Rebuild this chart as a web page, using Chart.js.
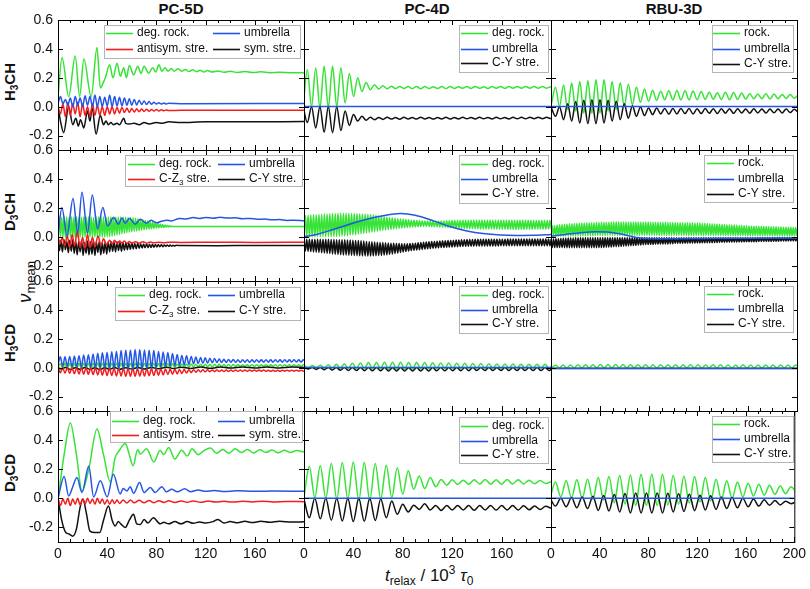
<!DOCTYPE html>
<html>
<head>
<meta charset="utf-8">
<title>nu mean relaxation</title>
<script src="https://cdn.jsdelivr.net/npm/chart.js"></script>
<style>
  html, body { margin: 0; padding: 0; background: #fff; }
  #fig { position: relative; width: 810px; height: 589px; overflow: hidden;
         font-family: "Liberation Sans", Arial, sans-serif; color: #111; }
  #fig canvas { position: absolute; left: 0; top: 0; }
  .lbl { position: absolute; white-space: nowrap; line-height: 1; }
  .colt { top: 1px; font-weight: bold; font-size: 15px; transform: translateX(-50%); }
  .rowt { font-weight: bold; font-size: 15px; transform: translate(-50%, -50%) rotate(-90deg); }
  .rowt .s { font-size: 10px; position: relative; top: 3px; }
  .ytitle { font-size: 19px; transform: translate(-50%, -50%) rotate(-90deg); }
  .ytitle i { font-style: italic; }
  .ytitle .s { font-size: 13px; position: relative; top: 4px; }
  .xtitle { font-size: 17px; left: 385px; top: 567px; }
  .xtitle .s { font-size: 12px; position: relative; top: 4px; }
  .xtitle .p { font-size: 12px; position: relative; top: -7px; }
</style>
</head>
<body>
<div id="fig">
  <div class="lbl colt" style="left:181px">PC-5D</div>
  <div class="lbl colt" style="left:427px">PC-4D</div>
  <div class="lbl colt" style="left:674px">RBU-3D</div>
  <div class="lbl rowt" style="left:9px;top:82px">H<span class="s">3</span>CH</div>
  <div class="lbl rowt" style="left:9px;top:212px">D<span class="s">3</span>CH</div>
  <div class="lbl rowt" style="left:9px;top:343px">H<span class="s">3</span>CD</div>
  <div class="lbl rowt" style="left:9px;top:473px">D<span class="s">3</span>CD</div>
  <div class="lbl ytitle" style="left:24px;top:282px"><i>&#957;</i><span class="s">mean</span></div>
  <div class="lbl xtitle"><i>t</i><span class="s">relax</span> / 10<span class="p">3</span> <i>&#964;</i><span class="s">0</span></div>
</div>
<script>
// axis ticks
const X_TICKS = [0, 40, 80, 120, 160, 200];
const X_MINOR = [10, 20, 30, 50, 60, 70, 90, 100, 110, 130, 140, 150, 170, 180, 190];
const Y_TICKS = [-0.2, 0.0, 0.2, 0.4, 0.6];

// ---------- H3CH ----------
const h3chPc5dRock = [[0,0.07],[3.3,0.34],[8.7,0.07],[14,0.35],[17.6,0.07],[21,0.33],[27,0.07],[31.7,0.41],[34.4,0.13],[37,0.17],[38.5,0.2],[42,0.29],[44.7,0.2],[48,0.3],[50.7,0.21],[53.4,0.27],[55.6,0.2],[58,0.285],[61.5,0.22],[64.8,0.28],[67.5,0.23],[70,0.28],[73.7,0.23],[77,0.27],[79.5,0.24],[82,0.29],[84.5,0.245],[87,0.27],[89.5,0.245],[92,0.265],[94.5,0.245],[97.5,0.262],[100.5,0.245],[103.5,0.258],[106.5,0.243],[109.5,0.255],[112.5,0.242],[115.5,0.252],[118.5,0.24],[121.5,0.25],[125,0.24],[130,0.247],[135,0.238],[140,0.245],[146,0.237],[152,0.243],[158,0.236],[165,0.241],[172,0.235],[180,0.238],[190,0.234],[200,0.235]];
const h3chPc5dUmb = [0.02,0.07,0.02,0.05,0.01,0.06,0.0,0.07,0.01,0.06,0.0,0.075,0.01,0.07,0.0,0.08,0.0,0.07,0.0,0.065,0.005,0.08,0.0,0.07,0.005,0.065,0.005,0.06,0.01,0.055,0.01,0.05,0.012,0.045,0.015,0.04,0.015,0.035,0.017,0.03,0.018,0.027,0.018,0.025,0.019,0.023];
const h3chPc5dUmbTail = [[100,0.021],[200,0.022]];
const h3chPc5dAnti = [0.0,-0.05,0.02,-0.07,0.03,-0.06,0.02,-0.05,0.03,-0.07,0.02,-0.06,0.0,-0.07,0.02,-0.06,0.01,-0.06,0.0,-0.06,0.0,-0.05,0.0,-0.05,-0.005,-0.045,-0.005,-0.04,-0.01,-0.04,-0.012,-0.037,-0.015,-0.035,-0.017,-0.033,-0.018,-0.032,-0.02,-0.03,-0.02,-0.03,-0.022,-0.028,-0.023,-0.027];
const h3chPc5dAntiTail = [[100,-0.025],[200,-0.025]];
const h3chPc5dSym = [[0,0],[2,-0.1],[4.6,-0.18],[8.7,0],[12,-0.125],[14.5,-0.08],[16.5,-0.135],[18.3,-0.09],[21,-0.147],[24,-0.03],[26,-0.1],[27.7,-0.01],[31,-0.19],[34.4,-0.06],[37,-0.125],[39,-0.1],[41,-0.125],[43,-0.11],[45,-0.125],[48,-0.115],[50,-0.125],[53.5,-0.08],[55,-0.115],[58,-0.12],[62,-0.115],[66,-0.125],[70,-0.11],[74,-0.12],[80,-0.11],[85,-0.115],[90,-0.105],[100,-0.11],[120,-0.105],[150,-0.105],[200,-0.103]];

const h3chPc4dRock = [0.0,0.255,0.0,0.267,-0.01,0.28,-0.01,0.28,0.0,0.27,0.025,0.23,0.07,0.2,0.105,0.168,0.117,0.152,0.122,0.145,0.124,0.142,0.125,0.14,0.126,0.139,0.125,0.14,0.124,0.14,0.125,0.138,0.126,0.139,0.125,0.14,0.126,0.138,0.127,0.139,0.126,0.14,0.127,0.138,0.126,0.139,0.127,0.14,0.126,0.139,0.127,0.14,0.127,0.139,0.127,0.14,0.128,0.139,0.128,0.138,0.13];
const h3chPc4dUmb = [[0,0.002],[200,0.002]];
const h3chPc4dCY = [0.0,-0.11,0.0,-0.147,0.002,-0.177,0.002,-0.18,0.0,-0.165,-0.03,-0.13,-0.055,-0.1,-0.067,-0.094,-0.073,-0.09,-0.075,-0.088,-0.074,-0.086,-0.075,-0.087,-0.074,-0.085,-0.075,-0.086,-0.074,-0.085,-0.075,-0.086,-0.075,-0.085,-0.074,-0.086,-0.075,-0.085,-0.074,-0.084,-0.075,-0.085,-0.074,-0.084,-0.075,-0.085,-0.074,-0.084,-0.075,-0.085,-0.074,-0.084,-0.074,-0.084,-0.074,-0.083,-0.074,-0.083,-0.074,-0.082,-0.078];

const h3chRbuRock = [0.02,0.135,0.002,0.15,-0.02,0.163,-0.03,0.175,-0.044,0.18,-0.045,0.186,-0.045,0.186,-0.03,0.175,-0.02,0.165,0.002,0.155,0.014,0.135,0.03,0.122,0.037,0.113,0.044,0.106,0.048,0.11,0.047,0.112,0.046,0.11,0.047,0.108,0.048,0.105,0.05,0.1,0.052,0.097,0.05,0.1,0.048,0.098,0.05,0.094,0.052,0.09,0.054,0.088,0.055,0.09,0.053,0.087,0.055,0.085,0.057,0.084,0.058,0.082];
const h3chRbuUmb = [[0,0.001],[200,0.001]];
const h3chRbuCY = [-0.01,-0.067,0.0,-0.09,0.02,-0.1,0.035,-0.113,0.044,-0.117,0.048,-0.117,0.048,-0.113,0.044,-0.1,0.037,-0.09,0.02,-0.08,0.007,-0.067,-0.002,-0.062,-0.01,-0.055,-0.01,-0.05,-0.012,-0.052,-0.013,-0.05,-0.012,-0.048,-0.013,-0.05,-0.014,-0.048,-0.013,-0.046,-0.014,-0.047,-0.015,-0.045,-0.014,-0.046,-0.015,-0.044,-0.016,-0.045,-0.015,-0.043,-0.016,-0.044,-0.017,-0.042,-0.016,-0.043,-0.017,-0.041,-0.018,-0.04];

// ---------- D3CH ----------
const d3chPc5dRock = [0.07,
  0.14,0.0, 0.138,0.002, 0.142,-0.002, 0.14,0.0, 0.139,0.003, 0.141,0.0, 0.14,-0.002, 0.142,0.001, 0.138,0.0, 0.14,0.002,
  0.141,0.0, 0.139,-0.001, 0.142,0.001, 0.14,0.0, 0.138,0.002, 0.141,0.0, 0.14,0.001, 0.142,-0.001, 0.139,0.002, 0.14,0.003,
  0.14,0.005, 0.141,0.008, 0.139,0.012, 0.14,0.016, 0.14,0.02, 0.139,0.024, 0.138,0.028, 0.138,0.032, 0.137,0.035, 0.136,0.038,
  0.135,0.041, 0.132,0.044, 0.128,0.047, 0.124,0.05, 0.12,0.053, 0.116,0.055, 0.112,0.057, 0.108,0.059, 0.104,0.061, 0.1,0.063,
  0.096,0.065, 0.092,0.067, 0.088,0.068, 0.085,0.07, 0.082,0.071, 0.079,0.072, 0.077,0.073, 0.075];
const d3chPc5dRockTail = [[100,0.074],[150,0.074],[200,0.074]];
const d3chPc5dUmb = [[0,0.01],[3.2,0.205],[7.3,0.01],[12.2,0.267],[16,0.03],[19.5,0.31],[24,0.03],[27.9,0.29],[32.2,0.06],[36.5,0.205],[40.3,0.078],[45.2,0.136],[49.2,0.09],[52,0.133],[54.7,0.097],[58,0.129],[62.8,0.09],[66.8,0.124],[72,0.097],[75.5,0.117],[80.4,0.1],[84,0.11],[88.5,0.117],[92,0.113],[99,0.13],[104,0.126],[110,0.136],[115,0.13],[120,0.137],[126,0.131],[132,0.138],[138,0.132],[144,0.135],[150,0.128],[156,0.13],[162,0.124],[168,0.126],[174,0.12],[180,0.122],[186,0.116],[192,0.118],[200,0.113]];
const d3chPc5dCZ3 = [[0,0],[2,-0.04],[3.5,0],[5.5,-0.06],[7.5,0.01],[9.5,-0.07],[11.5,0.02],[13.5,-0.06],[15.7,0.045],[18,-0.07],[20,0],[22,-0.075],[24,0.02],[26,-0.07],[28,0],[30,-0.065],[32.5,0.01],[35,-0.055],[37,-0.01],[39.5,-0.05],[42,-0.02],[44,-0.045],[46,-0.02],[48,-0.045],[50,-0.025],[52,-0.04],[54,-0.025],[56,-0.042],[58,-0.028],[60,-0.04],[63,-0.03],[66,-0.04],[69,-0.03],[72,-0.04],[75,-0.032],[78,-0.038],[82,-0.033],[86,-0.037],[90,-0.034],[100,-0.035],[130,-0.034],[160,-0.035],[200,-0.033]];
const d3chPc5dCY = [-0.01,
  -0.09,-0.02, -0.1,-0.015, -0.085,-0.03, -0.105,-0.02, -0.095,-0.015, -0.11,-0.025,
  -0.12,-0.03, -0.1,-0.02, -0.125,-0.035, -0.11,-0.025, -0.12,-0.03, -0.115,-0.02, -0.125,-0.03, -0.105,-0.025, -0.12,-0.035, -0.11,-0.03, -0.115,-0.03,
  -0.1,-0.03, -0.095,-0.035, -0.1,-0.03, -0.09,-0.035, -0.095,-0.035, -0.088,-0.038,
  -0.085,-0.04, -0.082,-0.038, -0.08,-0.042, -0.078,-0.04, -0.076,-0.044, -0.074,-0.045, -0.072,-0.046,
  -0.071,-0.047, -0.07,-0.048, -0.068,-0.049, -0.066,-0.05, -0.065,-0.051, -0.064,-0.052, -0.063,-0.052, -0.062,-0.053, -0.061,-0.054, -0.06,-0.055];
const d3chPc5dCYTail = [[100,-0.056],[130,-0.057],[160,-0.056],[200,-0.056]];

const d3chPc4dRock = [
  0.005,0.15, 0.005,0.152, 0.004,0.153, 0.005,0.155, 0.004,0.156, 0.005,0.158, 0.004,0.159, 0.005,0.16, 0.004,0.161, 0.005,0.162,
  0.005,0.163, 0.005,0.164, 0.006,0.165, 0.007,0.165, 0.008,0.165, 0.01,0.165, 0.012,0.165, 0.014,0.164, 0.016,0.164, 0.018,0.163,
  0.021,0.162, 0.024,0.161, 0.027,0.16, 0.03,0.159, 0.033,0.157, 0.036,0.155, 0.039,0.152, 0.042,0.149, 0.045,0.146, 0.048,0.143,
  0.05,0.14, 0.053,0.137, 0.055,0.134, 0.058,0.131, 0.06,0.128, 0.062,0.126, 0.064,0.124, 0.066,0.122, 0.068,0.12, 0.07,0.118,
  0.071,0.117, 0.072,0.116, 0.073,0.115, 0.074,0.114, 0.074,0.113, 0.074,0.113, 0.074,0.112, 0.073,0.112, 0.073,0.112, 0.072,0.112,
  0.071,0.113, 0.07,0.113, 0.069,0.114, 0.068,0.114, 0.067,0.115, 0.066,0.115, 0.065,0.116, 0.064,0.116, 0.063,0.117, 0.062,0.117,
  0.061,0.117, 0.06,0.117, 0.06,0.117, 0.059,0.117, 0.059,0.117, 0.058,0.117, 0.058,0.117, 0.058,0.117, 0.057,0.117, 0.057,0.117,
  0.057,0.117, 0.056,0.117, 0.056,0.117, 0.056,0.117, 0.056,0.117, 0.055,0.117, 0.055,0.117, 0.055,0.117, 0.055,0.117, 0.055,0.117,
  0.055,0.117, 0.055,0.117, 0.056,0.117, 0.056,0.116, 0.056,0.116, 0.057,0.116, 0.057,0.115, 0.057,0.115, 0.057,0.115, 0.057,0.115,
  0.057,0.115, 0.058];
const d3chPc4dUmb = [[0,0.005],[10,0.02],[24,0.055],[35,0.085],[51,0.124],[65,0.15],[78,0.163],[90,0.152],[105,0.113],[118,0.074],[132,0.044],[145,0.026],[159,0.016],[172,0.013],[186,0.014],[200,0.02]];
const d3chPc4dCY = [
  -0.014,-0.094, -0.014,-0.096, -0.014,-0.098, -0.014,-0.1, -0.014,-0.102, -0.014,-0.104, -0.014,-0.106, -0.014,-0.108, -0.014,-0.11, -0.014,-0.112,
  -0.015,-0.114, -0.015,-0.116, -0.016,-0.118, -0.016,-0.12, -0.017,-0.121, -0.017,-0.122, -0.018,-0.123, -0.019,-0.124, -0.02,-0.125, -0.021,-0.126,
  -0.022,-0.127, -0.024,-0.128, -0.026,-0.128, -0.028,-0.128, -0.03,-0.128, -0.031,-0.127, -0.032,-0.126, -0.034,-0.125, -0.035,-0.124, -0.036,-0.122,
  -0.038,-0.12, -0.039,-0.117, -0.04,-0.114, -0.041,-0.111, -0.042,-0.108, -0.043,-0.104, -0.044,-0.1, -0.044,-0.097, -0.044,-0.094, -0.043,-0.091,
  -0.042,-0.089, -0.04,-0.087, -0.038,-0.085, -0.036,-0.083, -0.034,-0.081, -0.032,-0.079, -0.031,-0.077, -0.029,-0.075, -0.028,-0.074, -0.027,-0.072,
  -0.025,-0.07, -0.024,-0.069, -0.023,-0.068, -0.022,-0.067, -0.021,-0.066, -0.02,-0.065, -0.019,-0.064, -0.018,-0.063, -0.017,-0.062, -0.016,-0.061,
  -0.015,-0.06, -0.015,-0.06, -0.015,-0.06, -0.014,-0.06, -0.014,-0.06, -0.014,-0.059, -0.014,-0.059, -0.014,-0.059, -0.013,-0.059, -0.013,-0.059,
  -0.013,-0.059, -0.013,-0.059, -0.013,-0.058, -0.013,-0.058, -0.013,-0.058, -0.012,-0.058, -0.012,-0.058, -0.012,-0.058, -0.012,-0.058, -0.012,-0.058,
  -0.012,-0.058, -0.012,-0.058, -0.012,-0.058, -0.012,-0.058, -0.012,-0.058, -0.012,-0.058, -0.012,-0.058, -0.012,-0.058, -0.012,-0.058, -0.012,-0.058,
  -0.012,-0.058, -0.012];

const d3chRbuRock = [
  0.008,0.08, 0.008,0.082, 0.008,0.085, 0.008,0.087, 0.008,0.089, 0.009,0.09, 0.009,0.092, 0.009,0.093, 0.009,0.094, 0.01,0.095,
  0.01,0.096, 0.01,0.097, 0.01,0.098, 0.011,0.099, 0.011,0.1, 0.011,0.1, 0.011,0.101, 0.012,0.101, 0.012,0.102, 0.012,0.102,
  0.012,0.103, 0.012,0.103, 0.012,0.104, 0.013,0.104, 0.013,0.105, 0.013,0.105, 0.013,0.105, 0.013,0.106, 0.013,0.106, 0.013,0.106,
  0.013,0.106, 0.013,0.106, 0.013,0.106, 0.013,0.106, 0.013,0.106, 0.013,0.105, 0.013,0.105, 0.013,0.105, 0.013,0.105, 0.013,0.105,
  0.013,0.104, 0.013,0.104, 0.013,0.104, 0.013,0.103, 0.013,0.103, 0.013,0.103, 0.013,0.103, 0.013,0.102, 0.013,0.102, 0.013,0.102,
  0.013,0.102, 0.013,0.101, 0.013,0.101, 0.013,0.101, 0.013,0.1, 0.013,0.1, 0.013,0.1, 0.013,0.1, 0.013,0.099, 0.013,0.099,
  0.013,0.098, 0.013,0.097, 0.013,0.096, 0.013,0.095, 0.013,0.094, 0.013,0.093, 0.013,0.092, 0.013,0.091, 0.013,0.09, 0.013,0.089,
  0.012,0.088, 0.012,0.087, 0.012,0.086, 0.012,0.085, 0.012,0.084, 0.012,0.083, 0.012,0.082, 0.012,0.081, 0.012,0.08, 0.012,0.079,
  0.011,0.078, 0.011,0.077, 0.011,0.077, 0.011,0.076, 0.011,0.075, 0.011,0.075, 0.011,0.074, 0.011,0.074, 0.011,0.073, 0.011,0.073,
  0.01,0.072, 0.01,0.072, 0.01,0.071, 0.01,0.071, 0.01,0.07, 0.01,0.07, 0.01,0.069, 0.01,0.069, 0.01,0.068, 0.01,0.068,
  0.01];
const d3chRbuUmb = [[0,0.008],[12,0.02],[24,0.032],[36,0.039],[46,0.036],[56,0.024],[66,0.005],[76,-0.007],[90,-0.009],[120,-0.008],[160,-0.006],[200,-0.005]];
const d3chRbuCY = [
  -0.012,-0.07, -0.011,-0.07, -0.01,-0.07, -0.009,-0.07, -0.008,-0.07, -0.007,-0.071, -0.006,-0.071, -0.005,-0.071, -0.004,-0.071, -0.004,-0.071,
  -0.003,-0.071, -0.003,-0.071, -0.003,-0.071, -0.003,-0.071, -0.003,-0.071, -0.003,-0.071, -0.003,-0.071, -0.003,-0.071, -0.003,-0.071, -0.003,-0.07,
  -0.003,-0.07, -0.003,-0.069, -0.003,-0.068, -0.003,-0.067, -0.003,-0.066, -0.003,-0.065, -0.003,-0.064, -0.003,-0.063, -0.003,-0.062, -0.003,-0.06,
  -0.003,-0.059, -0.003,-0.058, -0.003,-0.057, -0.003,-0.056, -0.003,-0.055, -0.003,-0.053, -0.003,-0.052, -0.003,-0.051, -0.003,-0.05, -0.003,-0.049,
  -0.003,-0.048, -0.003,-0.048, -0.003,-0.047, -0.003,-0.047, -0.003,-0.046, -0.003,-0.046, -0.003,-0.045, -0.003,-0.045, -0.003,-0.044, -0.003,-0.044,
  -0.003,-0.043, -0.003,-0.043, -0.003,-0.042, -0.003,-0.042, -0.003,-0.041, -0.003,-0.041, -0.003,-0.04, -0.003,-0.04, -0.003,-0.04, -0.003,-0.039,
  -0.003,-0.039, -0.003,-0.038, -0.003,-0.038, -0.003,-0.037, -0.003,-0.037, -0.003,-0.037, -0.003,-0.036, -0.003,-0.036, -0.003,-0.035, -0.003,-0.035,
  -0.003,-0.035, -0.003,-0.034, -0.003,-0.034, -0.003,-0.033, -0.003,-0.033, -0.003,-0.033, -0.003,-0.032, -0.003,-0.032, -0.003,-0.031, -0.003,-0.031,
  -0.003,-0.031, -0.003,-0.03, -0.003,-0.03, -0.003,-0.03, -0.003,-0.029, -0.003,-0.029, -0.003,-0.029, -0.003,-0.028, -0.003,-0.028, -0.003,-0.028,
  -0.003,-0.027, -0.003,-0.027, -0.003,-0.027, -0.003,-0.026, -0.003,-0.026, -0.003,-0.026, -0.003,-0.026, -0.003,-0.025, -0.003,-0.025, -0.003,-0.025,
  -0.003];

// ---------- H3CD ----------
const h3cdPc5dRock = [
  0.0,0.028,-0.005,0.03,-0.006,0.03,-0.005,0.032,-0.006,0.03,
  -0.007,0.031,-0.006,0.032,-0.007,0.03,-0.006,0.032,-0.007,0.031,
  -0.006,0.032,-0.007,0.031,-0.006,0.032,-0.007,0.03,-0.006,0.031,
  -0.006,0.03,-0.005,0.031,-0.005,0.03,-0.004,0.03,-0.004,0.029,
  -0.003,0.029,-0.002,0.028,-0.001,0.028,0.0,0.027,0.001,0.027,
  0.002,0.026,0.003,0.026,0.004,0.025,0.004,0.025,0.005,0.024,
  0.005,0.024,0.006,0.024,0.006,0.023,0.006,0.023,0.007,0.023,
  0.007,0.022,0.007,0.022,0.007,0.022,0.008,0.022,0.008,0.021,
  0.008,0.021,0.008,0.021,0.008,0.021,0.008,0.021,0.009,0.021,
  0.009,0.02,0.009,0.02,0.009,0.02,0.009,0.02,0.01,0.02,
  0.01,0.02,0.01,0.02,0.01,0.02,0.012];
const h3cdPc5dUmb = [
  0.02,0.075,0.01,0.075,0.01,0.078,0.005,0.08,0.005,0.083,
  0.005,0.088,0.003,0.09,0.003,0.095,0.0,0.1,0.0,0.103,
  0.0,0.105,-0.004,0.11,-0.005,0.112,-0.006,0.118,-0.008,0.12,
  -0.008,0.123,-0.01,0.125,-0.01,0.125,-0.01,0.122,-0.006,0.12,
  -0.004,0.118,0.0,0.112,0.004,0.108,0.006,0.105,0.01,0.098,
  0.012,0.092,0.015,0.085,0.018,0.082,0.022,0.078,0.026,0.074,
  0.028,0.07,0.03,0.068,0.032,0.065,0.034,0.063,0.035,0.06,
  0.036,0.058,0.036,0.057,0.037,0.056,0.037,0.055,0.037,0.055,
  0.038,0.055,0.037,0.054,0.038,0.055,0.038,0.054,0.038,0.055,
  0.038,0.054,0.038,0.055,0.039,0.054,0.038,0.055,0.039,0.054,
  0.039,0.055,0.039,0.054,0.039,0.054,0.04];
const h3cdPc5dCZ3 = [
  0.0,-0.035,0.0,-0.038,0.0,-0.04,-0.001,-0.042,0.0,-0.044,
  -0.001,-0.045,0.0,-0.046,-0.001,-0.048,-0.002,-0.05,-0.002,-0.052,
  -0.003,-0.054,-0.003,-0.055,-0.004,-0.057,-0.004,-0.058,-0.005,-0.06,
  -0.005,-0.06,-0.006,-0.06,-0.006,-0.059,-0.007,-0.058,-0.007,-0.056,
  -0.008,-0.054,-0.008,-0.052,-0.009,-0.05,-0.01,-0.048,-0.01,-0.046,
  -0.011,-0.043,-0.012,-0.04,-0.013,-0.037,-0.014,-0.034,-0.014,-0.032,
  -0.015,-0.03,-0.015,-0.029,-0.015,-0.028,-0.016,-0.028,-0.016,-0.027,
  -0.016,-0.027,-0.016,-0.026,-0.016,-0.026,-0.017,-0.026,-0.017,-0.026,
  -0.017,-0.026,-0.017,-0.025,-0.017,-0.025,-0.017,-0.025,-0.017,-0.025,
  -0.018,-0.025,-0.018,-0.025,-0.018,-0.025,-0.018,-0.024,-0.018,-0.024,
  -0.018,-0.024,-0.018,-0.024,-0.018,-0.024,-0.02];
const h3cdPc5dCY = [[0,0],[3,-0.01],[6,0.002],[10,-0.012],[14,0.0],[18,-0.012],[22,0.002],[26,-0.012],[30,0.0],[34,-0.014],[38,0.0],[42,-0.012],[46,0.002],[50,-0.012],[55,0.0],[60,-0.01],[65,0.002],[70,-0.01],[76,0.002],[82,-0.008],[88,0.003],[94,-0.006],[100,0.003],[108,-0.005],[116,0.004],[124,-0.004],[132,0.004],[140,-0.003],[150,0.004],[160,-0.002],[170,0.005],[180,-0.002],[190,0.004],[200,0.002]];

const h3cdPc4dRock = [
  0.014,0.0, 0.015,-0.001, 0.017,-0.002, 0.02,-0.003, 0.024,-0.004, 0.027,-0.005, 0.03,-0.006, 0.033,-0.007, 0.035,-0.008, 0.036,-0.008,
  0.037,-0.009, 0.037,-0.009, 0.037,-0.009, 0.036,-0.009, 0.036,-0.008, 0.035,-0.008, 0.034,-0.007, 0.033,-0.007, 0.032,-0.006, 0.031,-0.006,
  0.03,-0.006, 0.029,-0.005, 0.028,-0.005, 0.027,-0.005, 0.026,-0.005, 0.025,-0.005, 0.025,-0.004, 0.024,-0.004, 0.024,-0.004, 0.023,-0.004,
  0.023,-0.004, 0.022];
const h3cdPc4dUmb = [[0,0.002],[200,0.002]];
const h3cdPc4dCY = [
  0.002,-0.01, 0.002,-0.012, 0.001,-0.014, 0.002,-0.016, 0.001,-0.018, 0.002,-0.019, 0.001,-0.02, 0.002,-0.021, 0.001,-0.022, 0.002,-0.022,
  0.001,-0.023, 0.002,-0.023, 0.001,-0.023, 0.002,-0.023, 0.001,-0.023, 0.002,-0.023, 0.001,-0.022, 0.002,-0.022, 0.001,-0.021, 0.002,-0.021,
  0.001,-0.021, 0.002,-0.02, 0.001,-0.02, 0.002,-0.02, 0.001,-0.02, 0.002,-0.02, 0.001,-0.02, 0.002,-0.02, 0.001,-0.02, 0.002,-0.02,
  0.001,-0.02, 0.002];

const h3cdRbuRock = [
  0.0,0.016, -0.001,0.018, -0.002,0.019, -0.001,0.02, -0.002,0.021, -0.002,0.021, -0.001,0.022, -0.002,0.022, -0.002,0.022, -0.001,0.022,
  -0.002,0.021, -0.002,0.021, -0.001,0.021, -0.002,0.02, -0.002,0.02, -0.001,0.021, -0.002,0.021, -0.002,0.02, -0.001,0.02, -0.002,0.02,
  -0.002,0.019, -0.001,0.02, -0.002,0.02, -0.002,0.019, -0.001,0.019, -0.002,0.02, -0.002,0.019, -0.001,0.019, -0.002,0.019, -0.002,0.018,
  -0.001,0.019, -0.002,0.018, -0.002,0.018, -0.001];
const h3cdRbuUmb = [[0,-0.004],[200,-0.004]];
const h3cdRbuCY = [[0,-0.006],[100,-0.005],[200,-0.006]];

// ---------- D3CD ----------
const d3cdPc5dRock = [[0,0],[5,0.3],[10,0.517],[15,0.3],[19.5,0.05],[25,0.2],[31.7,0.476],[37,0.3],[42.5,0.113],[46.5,0.28],[50,0.33],[54.7,0.377],[58,0.3],[61,0.223],[64.7,0.333],[67,0.305],[72,0.34],[78,0.25],[83,0.33],[86,0.3],[90,0.35],[95,0.27],[100.6,0.33],[105,0.29],[109,0.34],[114,0.3],[119,0.33],[124,0.345],[129,0.31],[134,0.335],[139,0.31],[144,0.34],[149,0.315],[154,0.335],[159,0.312],[164,0.333],[169,0.315],[174,0.332],[179,0.313],[184,0.33],[189,0.315],[194,0.328],[200,0.318]];
const d3cdPc5dUmb = [[0,0],[5,0.15],[8.7,0.016],[12,0.08],[15.4,0.143],[19.5,0.04],[25,0.22],[29,0.01],[34.4,0.12],[40,0.01],[45,0.165],[50.6,0.03],[53,0.067],[56,0.05],[58.7,0.08],[61.5,0.035],[66.3,0.108],[70,0.04],[75,0.074],[79,0.04],[84.4,0.08],[88,0.045],[92.5,0.062],[97,0.045],[103,0.065],[108,0.046],[114,0.057],[120,0.048],[127,0.054],[135,0.047],[145,0.052],[160,0.048],[175,0.05],[200,0.048]];
const d3cdPc5dAnti = [[0,0],[2,-0.05],[4,-0.005],[6,-0.04],[8,0.0],[10,-0.05],[12,-0.005],[14,-0.04],[16,0.0],[18,-0.045],[20,-0.005],[22,-0.04],[24,0.0],[26,-0.035],[28,-0.005],[30,-0.04],[32,0.0],[34,-0.035],[36,-0.005],[38,-0.04],[40,-0.01],[42,-0.04],[44,-0.01],[46,-0.035],[48,-0.012],[50,-0.035],[53,-0.012],[56,-0.032],[59,-0.012],[62,-0.03],[66,-0.014],[70,-0.03],[74,-0.015],[78,-0.03],[82,-0.016],[86,-0.028],[90,-0.017],[95,-0.028],[100,-0.018],[105,-0.027],[110,-0.018],[116,-0.027],[122,-0.019],[128,-0.026],[135,-0.02],[142,-0.026],[150,-0.02],[158,-0.025],[166,-0.02],[175,-0.025],[185,-0.021],[200,-0.023]];
const d3cdPc5dSym = [[0,0],[3,-0.15],[6,-0.23],[9,-0.245],[12,-0.26],[15,-0.21],[18,-0.06],[20.3,-0.005],[23,-0.1],[26,-0.225],[30,-0.235],[34,-0.235],[37,-0.15],[41,-0.053],[44,-0.15],[46.5,-0.19],[49,-0.16],[51,-0.175],[54.7,-0.2],[58,-0.15],[61.4,-0.11],[64,-0.175],[67,-0.18],[70,-0.145],[73,-0.17],[77.6,-0.133],[83,-0.175],[86,-0.165],[90,-0.175],[95,-0.16],[100,-0.175],[105,-0.16],[110,-0.172],[115,-0.162],[120,-0.17],[126,-0.16],[130,-0.145],[135,-0.17],[140,-0.16],[146,-0.168],[152,-0.158],[158,-0.166],[165,-0.158],[172,-0.165],[180,-0.158],[190,-0.163],[200,-0.161]];

const d3cdPc4dRock = [0.0,0.218,0.005,0.223,0.0,0.24,-0.005,0.246,-0.005,0.25,-0.015,0.246,-0.015,0.24,-0.005,0.228,0.005,0.21,0.028,0.19,0.062,0.154,0.067,0.143,0.08,0.13,0.09,0.128,0.095,0.125,0.097,0.128,0.098,0.13,0.097,0.128,0.097,0.13,0.098,0.128,0.099,0.125,0.1,0.122,0.102,0.115];
const d3cdPc4dUmb = [[0,0.0],[200,0.0]];
const d3cdPc4dCY = [0.0,-0.133,0.0,-0.14,0.0,-0.15,0.0,-0.156,0.0,-0.16,0.0,-0.158,0.0,-0.152,-0.005,-0.133,-0.018,-0.11,-0.04,-0.094,-0.048,-0.076,-0.037,-0.08,-0.05,-0.083,-0.05,-0.08,-0.05,-0.08,-0.05,-0.082,-0.05,-0.08,-0.05,-0.081,-0.05,-0.08,-0.05,-0.08,-0.051,-0.079,-0.052,-0.077,-0.055,-0.068];

const d3cdRbuRock = [0.0,0.113,0.01,0.12,0.003,0.127,0.0,0.131,-0.007,0.143,-0.012,0.15,-0.03,0.159,-0.04,0.161,-0.048,0.165,-0.048,0.165,-0.048,0.165,-0.045,0.159,-0.04,0.154,-0.033,0.15,-0.025,0.143,-0.018,0.131,-0.007,0.12,0.0,0.113,0.01,0.103,0.016,0.097,0.022,0.09,0.028,0.085,0.032,0.08,0.038];
const d3cdRbuUmb = [[0,0.0],[200,0.0]];
const d3cdRbuCY = [0.0,-0.053,0.0,-0.058,0.005,-0.065,0.01,-0.07,0.015,-0.083,0.02,-0.087,0.027,-0.094,0.033,-0.1,0.037,-0.1,0.037,-0.1,0.037,-0.1,0.035,-0.094,0.032,-0.09,0.028,-0.085,0.022,-0.08,0.017,-0.076,0.01,-0.07,0.005,-0.065,0.0,-0.058,-0.005,-0.053,-0.01,-0.048,-0.015,-0.045,-0.02,-0.037,-0.023];

// ---------- helpers ----------
function pts(pairs) { return pairs.map(p => ({ x: p[0], y: p[1] })); }
// evenly sampled values starting at t0 with step dt
function even(t0, dt, vals) { return vals.map((v, i) => ({ x: t0 + i * dt, y: v })); }

const GREEN = '#36e336', BLUE = '#2456e6', RED = '#f21c1c', BLACK = '#111111';
const FAMILY = '"Liberation Sans", Arial, sans-serif';

// panel frame positions (px)
const LEFTS = [58, 304, 551], RIGHTS = [304, 551, 797];
const TOPS = [20, 150, 281, 411], BOTTOMS = [150, 281, 411, 542];

const panels = [
  { row: 0, col: 0, legend: { x: 104, y: 25, w: 196, h: 33, cols: [2, 109], rows: [8, 24] }, series: [
    { label: 'deg. rock.', color: GREEN, data: pts(h3chPc5dRock) },
    { label: 'umbrella', color: BLUE, data: even(0, 2, h3chPc5dUmb).concat(pts(h3chPc5dUmbTail)) },
    { label: 'antisym. stre.', color: RED, data: even(0, 2, h3chPc5dAnti).concat(pts(h3chPc5dAntiTail)) },
    { label: 'sym. stre.', color: BLACK, data: pts(h3chPc5dSym) } ] },
  { row: 0, col: 1, legend: { x: 459, y: 25, w: 89, h: 47, cols: [2], rows: [8, 24, 38] }, series: [
    { label: 'deg. rock.', color: GREEN, data: even(-0.7, 3.4, h3chPc4dRock) },
    { label: 'umbrella', color: BLUE, data: pts(h3chPc4dUmb) },
    { label: 'C-Y stre.', color: BLACK, data: even(-0.7, 3.4, h3chPc4dCY) } ] },
  { row: 0, col: 2, legend: { x: 712, y: 25, w: 81, h: 47, cols: [1], rows: [8, 24, 39] }, series: [
    { label: 'rock.', color: GREEN, data: even(0.36, 3.29, h3chRbuRock) },
    { label: 'umbrella', color: BLUE, data: pts(h3chRbuUmb) },
    { label: 'C-Y stre.', color: BLACK, data: even(0.36, 3.29, h3chRbuCY) } ] },

  { row: 1, col: 0, legend: { x: 125, y: 155, w: 177, h: 31, cols: [3, 93], rows: [9, 24] }, series: [
    { label: 'deg. rock.', color: GREEN, data: even(0, 1, d3chPc5dRock).concat(pts(d3chPc5dRockTail)) },
    { label: 'umbrella', color: BLUE, data: pts(d3chPc5dUmb) },
    { label: 'C-Z_3 stre.', color: RED, data: pts(d3chPc5dCZ3) },
    { label: 'C-Y stre.', color: BLACK, data: even(0, 1.2, d3chPc5dCY).concat(pts(d3chPc5dCYTail)) } ] },
  { row: 1, col: 1, legend: { x: 459, y: 155, w: 89, h: 48, cols: [2], rows: [9, 24, 39] }, series: [
    { label: 'deg. rock.', color: GREEN, data: even(0, 1.1, d3chPc4dRock) },
    { label: 'umbrella', color: BLUE, data: pts(d3chPc4dUmb) },
    { label: 'C-Y stre.', color: BLACK, data: even(0, 1.1, d3chPc4dCY) } ] },
  { row: 1, col: 2, legend: { x: 704, y: 155, w: 89, h: 47, cols: [3], rows: [8, 24, 39] }, series: [
    { label: 'rock.', color: GREEN, data: even(0, 1, d3chRbuRock) },
    { label: 'umbrella', color: BLUE, data: pts(d3chRbuUmb) },
    { label: 'C-Y stre.', color: BLACK, data: even(0, 1, d3chRbuCY) } ] },

  { row: 2, col: 0, legend: { x: 115, y: 287, w: 185, h: 33, cols: [3, 93], rows: [8, 24] }, series: [
    { label: 'deg. rock.', color: GREEN, data: even(0, 1.9, h3cdPc5dRock) },
    { label: 'umbrella', color: BLUE, data: even(0, 1.9, h3cdPc5dUmb) },
    { label: 'C-Z_3 stre.', color: RED, data: even(0, 1.9, h3cdPc5dCZ3) },
    { label: 'C-Y stre.', color: BLACK, data: pts(h3cdPc5dCY) } ] },
  { row: 2, col: 1, legend: { x: 459, y: 286, w: 89, h: 47, cols: [2], rows: [9, 24, 38] }, series: [
    { label: 'deg. rock.', color: GREEN, data: even(0.2, 3.25, h3cdPc4dRock) },
    { label: 'umbrella', color: BLUE, data: pts(h3cdPc4dUmb) },
    { label: 'C-Y stre.', color: BLACK, data: even(0.2, 3.25, h3cdPc4dCY) } ] },
  { row: 2, col: 2, legend: { x: 704, y: 286, w: 89, h: 46, cols: [3], rows: [8, 23, 38] }, series: [
    { label: 'rock.', color: GREEN, data: even(0.6, 3.05, h3cdRbuRock) },
    { label: 'umbrella', color: BLUE, data: pts(h3cdRbuUmb) },
    { label: 'C-Y stre.', color: BLACK, data: pts(h3cdRbuCY) } ] },

  { row: 3, col: 0, legend: { x: 110, y: 411, w: 192, h: 31, cols: [2, 108], rows: [10, 24] }, series: [
    { label: 'deg. rock.', color: GREEN, data: pts(d3cdPc5dRock) },
    { label: 'umbrella', color: BLUE, data: pts(d3cdPc5dUmb) },
    { label: 'antisym. stre.', color: RED, data: pts(d3cdPc5dAnti) },
    { label: 'sym. stre.', color: BLACK, data: pts(d3cdPc5dSym) } ] },
  { row: 3, col: 1, legend: { x: 459, y: 417, w: 89, h: 46, cols: [2], rows: [9, 24, 38] }, series: [
    { label: 'deg. rock.', color: GREEN, data: even(-0.15, 4.45, d3cdPc4dRock) },
    { label: 'umbrella', color: BLUE, data: pts(d3cdPc4dUmb) },
    { label: 'C-Y stre.', color: BLACK, data: even(-0.15, 4.45, d3cdPc4dCY) } ] },
  { row: 3, col: 2, legend: { x: 712, y: 416, w: 81, h: 46, cols: [1], rows: [8, 23, 38] }, series: [
    { label: 'rock.', color: GREEN, data: even(-0.75, 4.4, d3cdRbuRock) },
    { label: 'umbrella', color: BLUE, data: pts(d3cdRbuUmb) },
    { label: 'C-Y stre.', color: BLACK, data: even(-0.75, 4.4, d3cdRbuCY) } ] }
];

// draw text with "_3" style subscripts
function drawRich(ctx, s, x, y) {
  const parts = s.split(/_(\d)/);
  let cx = x;
  parts.forEach((p, i) => {
    if (i % 2 === 1) {
      ctx.font = '8px ' + FAMILY;
      ctx.fillText(p, cx, y + 4);
    } else {
      ctx.font = '12px ' + FAMILY;
      ctx.fillText(p, cx, y);
    }
    cx += ctx.measureText(p).width;
  });
}

// frame, inward ticks on all sides, and the boxed legend
const panelDeco = {
  id: 'panelDeco',
  afterDraw(chart, args, opts) {
    const { ctx, chartArea: a } = chart;
    const xs = chart.scales.x, ys = chart.scales.y;
    ctx.save();
    ctx.strokeStyle = '#000';
    ctx.lineWidth = 1;
    ctx.beginPath();
    const seg = (x1, y1, x2, y2) => { ctx.moveTo(x1, y1); ctx.lineTo(x2, y2); };
    X_TICKS.forEach(v => {
      const px = Math.round(xs.getPixelForValue(v)) + 0.5;
      seg(px, a.bottom, px, a.bottom - 5); seg(px, a.top, px, a.top + 5);
    });
    X_MINOR.forEach(v => {
      const px = Math.round(xs.getPixelForValue(v)) + 0.5;
      seg(px, a.bottom, px, a.bottom - 3); seg(px, a.top, px, a.top + 3);
    });
    Y_TICKS.forEach(v => {
      const py = Math.round(ys.getPixelForValue(v)) + 0.5;
      seg(a.left, py, a.left + 5, py); seg(a.right, py, a.right - 5, py);
    });
    ctx.stroke();
    ctx.strokeRect(a.left + 0.5, a.top + 0.5, a.right - a.left, a.bottom - a.top);

    const L = opts.legend;
    ctx.fillStyle = '#fff';
    ctx.fillRect(L.x, L.y, L.w, L.h);
    ctx.strokeStyle = '#b4b4b4';
    ctx.strokeRect(L.x + 0.5, L.y + 0.5, L.w, L.h);
    ctx.textBaseline = 'middle';
    ctx.textAlign = 'left';
    const ncol = L.cols.length;
    chart.data.datasets.forEach((ds, i) => {
      const sx = L.x + L.cols[i % ncol];
      const sy = L.y + L.rows[Math.floor(i / ncol)];
      ctx.strokeStyle = ds.borderColor;
      ctx.lineWidth = 1.6;
      ctx.beginPath();
      ctx.moveTo(sx, sy + 0.5);
      ctx.lineTo(sx + 27, sy + 0.5);
      ctx.stroke();
      ctx.fillStyle = '#111';
      drawRich(ctx, ds.label, sx + 31, sy);
    });
    ctx.restore();
  }
};

// blue on top, then red, black, green at the bottom
const DRAW_ORDER = {};
DRAW_ORDER[BLUE] = 0; DRAW_ORDER[RED] = 1; DRAW_ORDER[BLACK] = 2; DRAW_ORDER[GREEN] = 3;

Chart.defaults.font.family = FAMILY;

const fig = document.getElementById('fig');
panels.forEach(p => {
  const canvas = document.createElement('canvas');
  canvas.width = 810;
  canvas.height = 589;
  fig.appendChild(canvas);
  const yW = p.col === 0 ? 40 : 0;
  const xH = p.row === 3 ? 30 : 0;

  new Chart(canvas.getContext('2d'), {
    type: 'line',
    data: {
      datasets: p.series.map(s => ({
        label: s.label,
        data: s.data,
        borderColor: s.color,
        backgroundColor: s.color,
        borderWidth: 1.5,
        pointRadius: 0,
        fill: false,
        cubicInterpolationMode: 'monotone',
        order: DRAW_ORDER[s.color]
      }))
    },
    options: {
      responsive: false,
      animation: false,
      events: [],
      parsing: false,
      layout: {
        padding: {
          left: LEFTS[p.col] - yW,
          top: TOPS[p.row],
          right: 810 - RIGHTS[p.col],
          bottom: 589 - BOTTOMS[p.row] - xH
        }
      },
      plugins: {
        legend: { display: false },
        tooltip: { enabled: false },
        panelDeco: { legend: p.legend }
      },
      scales: {
        x: {
          type: 'linear', min: 0, max: 200,
          grid: { display: false, drawTicks: false },
          border: { display: false },
          ticks: {
            display: p.row === 3, padding: 4, color: '#111', font: { size: 14 },
            maxRotation: 0, autoSkip: false,
            callback: v => (p.col < 2 && v === 200) ? '' : String(v)
          },
          afterBuildTicks: s => { s.ticks = X_TICKS.map(v => ({ value: v })); },
          afterFit: s => { s.height = xH; }
        },
        y: {
          type: 'linear', min: -0.3, max: 0.6,
          grid: { display: false, drawTicks: false },
          border: { display: false },
          ticks: {
            display: p.col === 0, padding: 5, color: '#111', font: { size: 14 },
            callback: v => Number(v).toFixed(1)
          },
          afterBuildTicks: s => { s.ticks = Y_TICKS.map(v => ({ value: v })); },
          afterFit: s => { s.width = yW; }
        }
      }
    },
    plugins: [panelDeco]
  });
});
</script>
</body>
</html>
